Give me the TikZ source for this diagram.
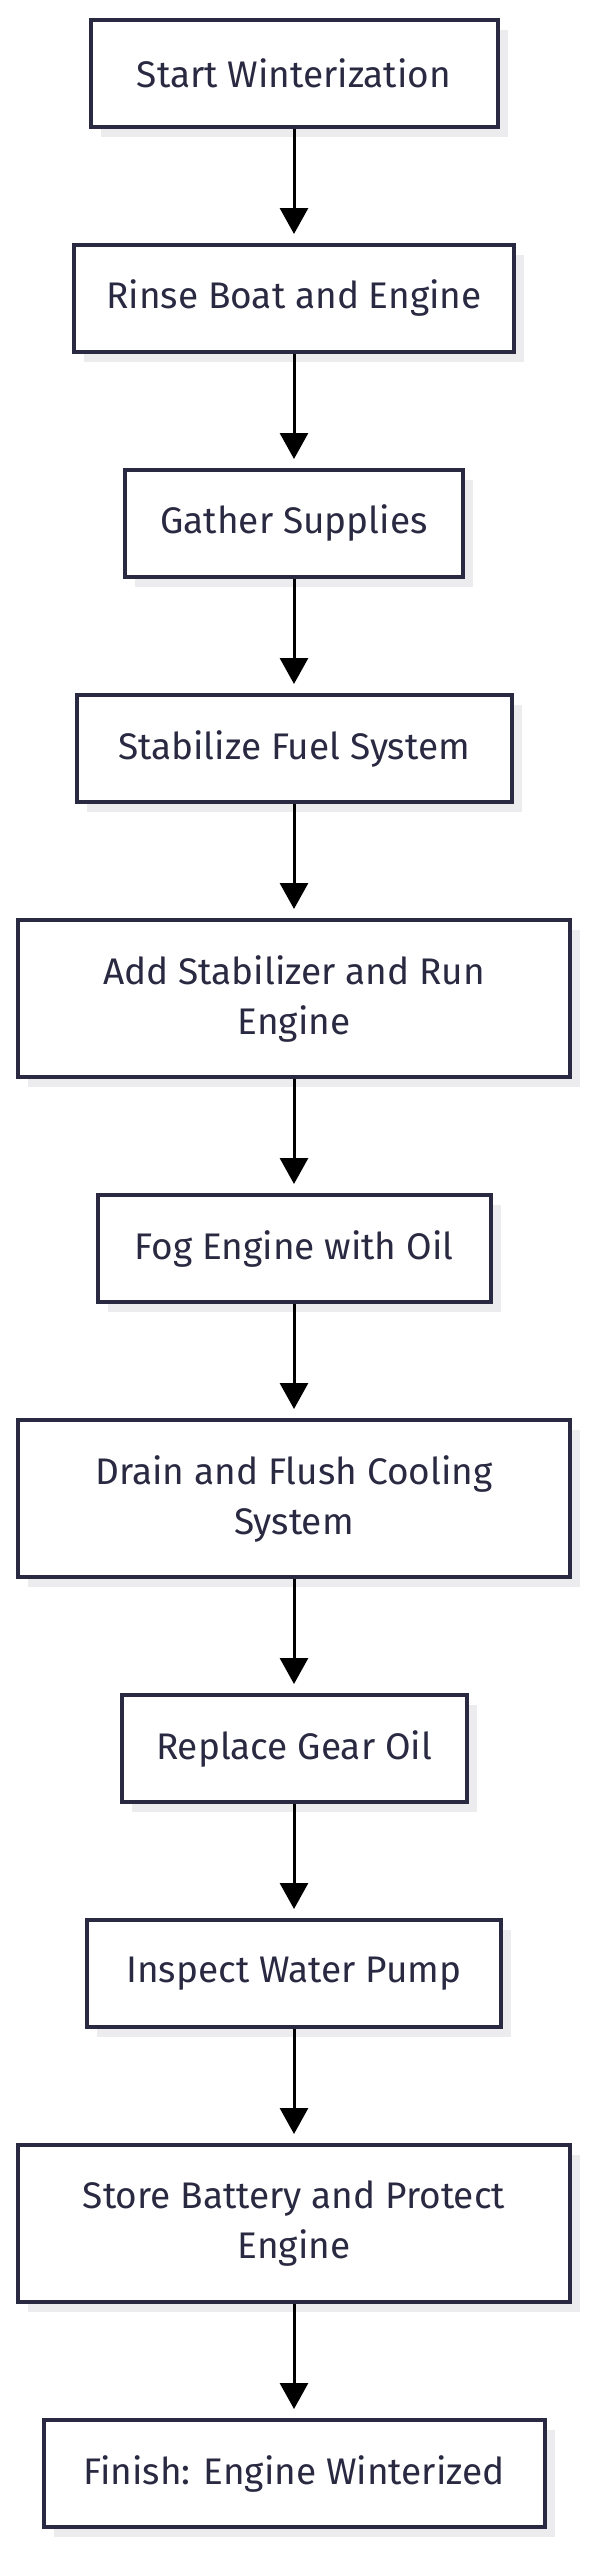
\documentclass[tikz,border=0pt]{standalone}
\usepackage{fontspec}
\setmainfont{Fira Sans}
\usetikzlibrary{arrows.meta,shadows}
\definecolor{navy}{RGB}{42,41,66}
\definecolor{shade}{RGB}{236,236,238}
\begin{document}
\begin{tikzpicture}[
					x = 1pt, y = 1pt,
					step box/.style = {draw = navy, line width = 4pt, fill = white, text = navy,
						anchor = north, align = center, inner sep = 0pt,
						font = \fontsize{37}{50}\selectfont,
						general shadow = {fill = shade, shadow xshift = 10pt, shadow yshift = -10pt}},
					one/.style = {step box, minimum height = 107pt},
					two/.style = {step box, minimum height = 157pt},
					flow/.style = {line width = 3pt, -{Triangle[length = 26pt, width = 28pt]}, shorten > = 9pt}]

					\useasboundingbox (0,0) rectangle (591,-2560);

					\node[one, minimum width = 407pt] (start) at (294,-18) {Start Winterization};
					\node[one, minimum width = 440pt] (rinse) at (294,-243) {Rinse Boat and Engine};
					\node[one, minimum width = 338pt] (gather) at (294,-468) {Gather Supplies};
					\node[one, minimum width = 435pt] (fuel) at (294,-693) {Stabilize Fuel System};
					\node[two, minimum width = 552pt] (stab) at (294,-918) {Add Stabilizer and Run\\Engine};
					\node[one, minimum width = 393pt] (fog) at (294,-1193) {Fog Engine with Oil};
					\node[two, minimum width = 552pt] (drain) at (294,-1418) {Drain and Flush Cooling\\System};
					\node[one, minimum width = 345pt] (gear) at (294,-1693) {Replace Gear Oil};
					\node[one, minimum width = 414pt] (pump) at (294,-1918) {Inspect Water Pump};
					\node[two, minimum width = 552pt] (battery) at (294,-2143) {Store Battery and Protect\\Engine};
					\node[one, minimum width = 501pt] (finish) at (294,-2418) {Finish: Engine Winterized};

					\draw[flow] (start) -- (rinse);
					\draw[flow] (rinse) -- (gather);
					\draw[flow] (gather) -- (fuel);
					\draw[flow] (fuel) -- (stab);
					\draw[flow] (stab) -- (fog);
					\draw[flow] (fog) -- (drain);
					\draw[flow] (drain) -- (gear);
					\draw[flow] (gear) -- (pump);
					\draw[flow] (pump) -- (battery);
					\draw[flow] (battery) -- (finish);

				\end{tikzpicture}
\end{document}
